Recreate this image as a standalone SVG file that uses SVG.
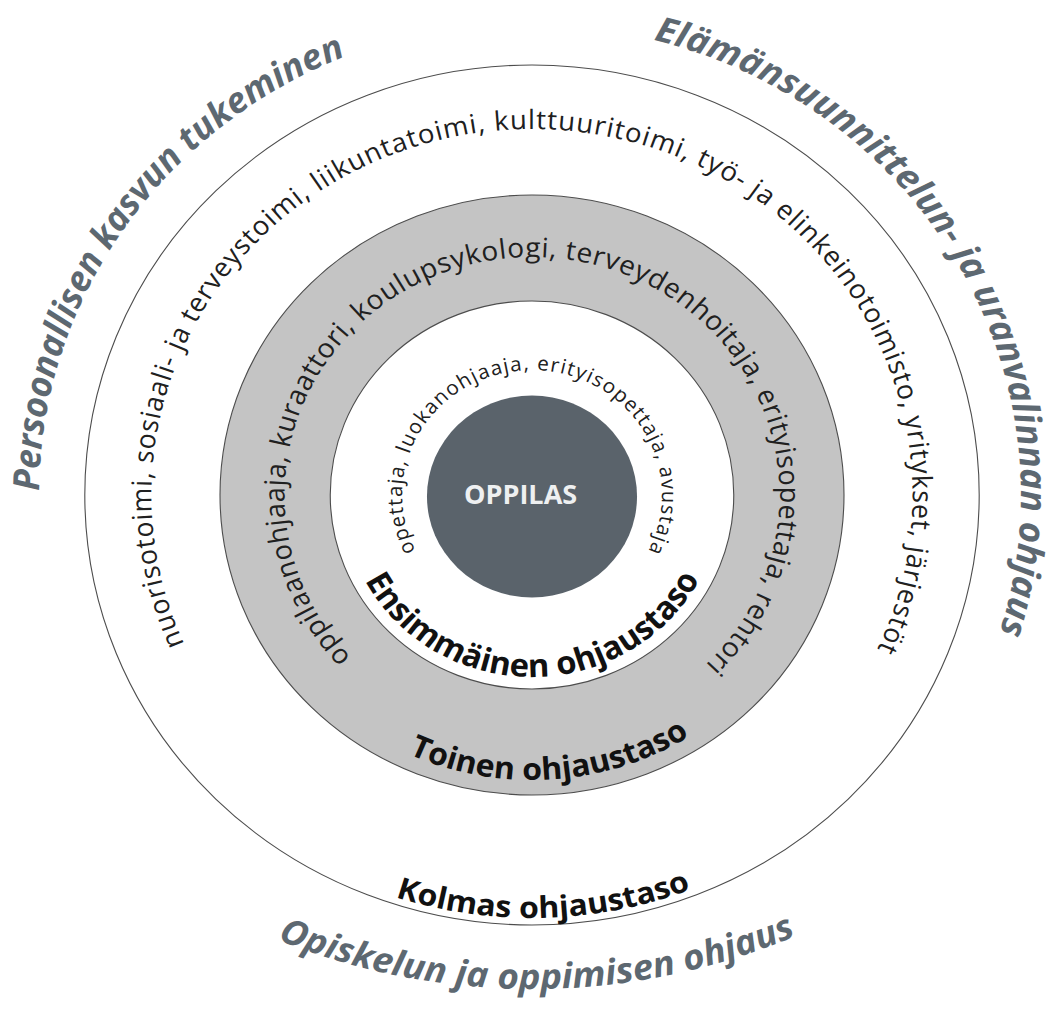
<svg xmlns="http://www.w3.org/2000/svg" width="1046" height="1010" viewBox="0 0 1046 1010">
<style>
.ring{stroke:#4d4d4d;stroke-width:1.1;vector-effect:non-scaling-stroke}
.t{font-family:"Open Sans","Noto Sans","DejaVu Sans",sans-serif;fill:#202020}
.lvl{font-family:"Open Sans","Noto Sans","DejaVu Sans",sans-serif;font-weight:700;fill:#111}
.title{font-family:"Open Sans","Noto Sans","DejaVu Sans",sans-serif;font-weight:700;font-style:italic;fill:#5d6871;font-size:35px}
</style>
<defs>
<path id="p3" d="M -334.4 148.9 A 366 366 0 1 1 332.0 154.1"/>
<path id="p2" d="M -174.1 162.3 A 238 238 0 1 1 166.8 169.8"/>
<path id="p1" d="M -111.9 55.8 A 125 125 0 1 1 111.9 55.8"/>
<path id="pl1" d="M -160.7 85.4 A 182 182 0 0 0 161.1 84.6"/>
<path id="pl2" d="M -118.6 259.1 A 285 285 0 0 0 151.9 241.2"/>
<path id="pl3" d="M -131.4 402.1 A 423 423 0 0 0 153.0 394.4"/>
<path id="pt1" d="M -474 -4.1 A 474 474 0 0 1 -179.1 -438.9"/>
<path id="pt2" d="M 116.9 -455.2 A 470 470 0 0 1 449.5 137.4"/>
<path id="pt3" d="M -244.9 444.6 A 632 632 0 0 0 254.0 440.7"/>
</defs>
<rect width="1046" height="1010" fill="#ffffff"/>
<g transform="translate(532 495) scale(1.04 1)">
  <g id="kolmas-ohjaustaso">
    <circle r="430" fill="#ffffff" class="ring"/>
    <text class="t" font-size="26.5"><textPath href="#p3" textLength="1462" lengthAdjust="spacing">nuorisotoimi, sosiaali- ja terveystoimi, liikuntatoimi, kulttuuritoimi, työ- ja elinkeinotoimisto, yritykset, järjestöt</textPath></text>
    <text class="lvl" font-size="30"><textPath href="#pl3" textLength="290" lengthAdjust="spacingAndGlyphs">Kolmas ohjaustaso</textPath></text>
  </g>
  <g id="toinen-ohjaustaso">
    <circle r="300" fill="#c4c4c4" class="ring"/>
    <text class="t" font-size="27"><textPath href="#p2" textLength="1115" lengthAdjust="spacing">oppilaanohjaaja, kuraattori, koulupsykologi, terveydenhoitaja, erityisopettaja, rehtori</textPath></text>
    <text class="lvl" font-size="31"><textPath href="#pl2" textLength="282" lengthAdjust="spacingAndGlyphs">Toinen ohjaustaso</textPath></text>
  </g>
  <g id="ensimmainen-ohjaustaso">
    <circle r="194" fill="#ffffff" class="ring"/>
    <text class="t" font-size="20"><textPath href="#p1" textLength="508" lengthAdjust="spacing">opettaja, luokanohjaaja, erityisopettaja, avustaja</textPath></text>
    <text class="lvl" font-size="32"><textPath href="#pl1" textLength="395" lengthAdjust="spacingAndGlyphs">Ensimmäinen ohjaustaso</textPath></text>
  </g>
  <g id="oppilas">
    <circle cx="0" cy="1.5" r="101" fill="#5a636b"/>
    <text x="-11" y="8.5" text-anchor="middle" font-family="Open Sans, Noto Sans, DejaVu Sans, sans-serif" font-weight="700" font-size="26" fill="#eef0f1">OPPILAS</text>
  </g>
  <g id="ohjauksen-osa-alueet">
    <text class="title"><textPath href="#pt1" textLength="557" lengthAdjust="spacingAndGlyphs">Persoonallisen kasvun tukeminen</textPath></text>
    <text class="title"><textPath href="#pt2" textLength="760" lengthAdjust="spacingAndGlyphs">Elämänsuunnittelun- ja uranvalinnan ohjaus</textPath></text>
    <text class="title"><textPath href="#pt3" textLength="513" lengthAdjust="spacingAndGlyphs">Opiskelun ja oppimisen ohjaus</textPath></text>
  </g>
</g>
</svg>
